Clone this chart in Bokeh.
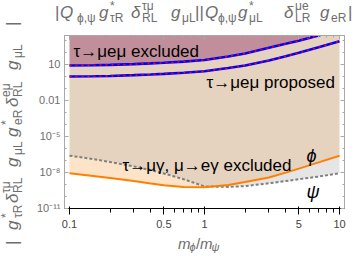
import numpy as np
from bokeh.plotting import figure
from bokeh.layouts import row, column
from bokeh.models import (FixedTicker, CustomJSTickFormatter, LogAxis, Label, Range1d, Div)
from bokeh.embed import file_html
from bokeh.resources import INLINE

# ---------------- data ----------------
mass_ratio = [0.1, 0.15, 0.2, 0.3, 0.4, 0.5, 0.7, 1, 1.5, 2, 3, 4, 5, 7, 10]
# log10 of the couplings
log10_mueme_excluded = [0.88, 0.90, 0.93, 0.99, 1.05, 1.10, 1.20, 1.33, 1.62, 1.88, 2.35, 2.68, 2.94, 3.38, 3.92]
log10_mueme_proposed = [-0.04, -0.02, 0.0, 0.07, 0.13, 0.18, 0.27, 0.40, 0.66, 0.88, 1.30, 1.64, 1.93, 2.40, 2.90]
log10_phi = [-8.11, -8.33, -8.50, -8.75, -8.96, -9.11, -9.24, -9.26, -9.08, -8.84, -8.45, -8.05, -7.72, -7.20, -6.64]
log10_psi = [-6.64, -6.92, -7.17, -7.53, -7.85, -8.12, -8.60, -9.20, -9.24, -9.17, -8.94, -8.75, -8.60, -8.38, -8.11]

x_tick_values = [0.1, 0.5, 1, 5, 10]
x_tick_labels = ["0.1", "0.5", "1", "5", "10"]
x_minor_ticks = [0.2, 0.3, 0.4, 0.6, 0.7, 0.8, 0.9, 2, 3, 4, 6, 7, 8, 9]
y_tick_values = [1e-11, 1e-8, 1e-5, 1e-2, 10]
y_tick_labels = ["10\u207b\u00b9\u00b9", "10\u207b\u2078", "10\u207b\u2075", "0.01", "10"]
y_minor_ticks = [1e-10, 1e-9, 1e-7, 1e-6, 1e-4, 1e-3, 0.1, 1, 100, 1000]

# ---------------- geometry (page pixels) ----------------
LX0, LX1 = -1.037, 1.037
LY0, LY1 = -11.04, 3.375
FR_L, FR_R, FR_T, FR_B = 64, 344, 35, 208   # frame edges on the page
W, H = 354, 258
LEFT_W = 28          # width of the rotated-label strip
TOP_H = 28           # height of the top-label strip
BOT_H = 25           # height of the x-label strip
PW, PH = W - LEFT_W, H - TOP_H - BOT_H

def dx(rx):
    return float(10 ** (LX0 + (rx - FR_L) / (FR_R - FR_L) * (LX1 - LX0)))

def dy(ry):
    return float(10 ** (LY1 - (ry - FR_T) / (FR_B - FR_T) * (LY1 - LY0)))

FONT = "Liberation Sans"
GRAY_TXT = "#6e6e6e"
FRAME = "#a8a8a8"

p = figure(width=PW, height=PH, x_axis_type="log", y_axis_type="log",
           x_range=Range1d(10 ** LX0, 10 ** LX1), y_range=Range1d(10 ** LY0, 10 ** LY1),
           output_backend="svg", toolbar_location=None, margin=0,
           min_border_left=FR_L - LEFT_W, min_border_right=W - FR_R,
           min_border_top=FR_T - TOP_H, min_border_bottom=TOP_H + PH - FR_B)
p.xgrid.visible = False
p.ygrid.visible = False
p.outline_line_color = FRAME
p.background_fill_color = "white"
p.border_fill_color = "white"

x = np.array(mass_ratio)
upper = 10 ** np.array(log10_mueme_excluded)
lower = 10 ** np.array(log10_mueme_proposed)
phi = 10 ** np.array(log10_phi)
psi = 10 ** np.array(log10_psi)
top_env = np.maximum(phi, psi)

# regions
p.varea(x=x, y1=upper, y2=np.full_like(x, 1e6), fill_color="#c18f9b")
p.varea(x=x, y1=top_env, y2=upper, fill_color="#e6d3bf")
p.varea(x=x, y1=phi, y2=top_env, fill_color="#fde4c9")
p.varea(x=x, y1=psi, y2=top_env, fill_color="#e5e5e5")

# curves
p.line(x, psi, line_color="#7f7f7f", line_width=2, line_dash="3 2")
p.line(x, phi, line_color="#ff8000", line_width=2)
for yy in (upper, lower):
    p.line(x, yy, line_color="#0000ff", line_width=2.6)
    p.line(x, yy, line_color="#ff0000", line_width=1.4, line_dash="2 4")

# axes
fmt_code = """
let best = 0, bd = Infinity;
for (let i = 0; i < vals.length; i++) {
  const d = Math.abs(Math.log10(tick) - Math.log10(vals[i]));
  if (d < bd) { bd = d; best = i; }
}
return labs[best];
"""
p.xaxis[0].ticker = FixedTicker(ticks=x_tick_values, minor_ticks=x_minor_ticks)
p.yaxis[0].ticker = FixedTicker(ticks=y_tick_values, minor_ticks=y_minor_ticks)
p.xaxis[0].formatter = CustomJSTickFormatter(args=dict(vals=x_tick_values, labs=x_tick_labels), code=fmt_code)
p.yaxis[0].formatter = CustomJSTickFormatter(args=dict(vals=y_tick_values, labs=y_tick_labels), code=fmt_code)

top_ax = LogAxis(ticker=FixedTicker(ticks=x_tick_values, minor_ticks=x_minor_ticks),
                 formatter=CustomJSTickFormatter(code='return "";'))
right_ax = LogAxis(ticker=FixedTicker(ticks=y_tick_values, minor_ticks=y_minor_ticks),
                   formatter=CustomJSTickFormatter(code='return "";'))
p.add_layout(top_ax, "above")
p.add_layout(right_ax, "right")

for ax in (p.xaxis[0], p.yaxis[0], top_ax, right_ax):
    ax.axis_line_color = FRAME
    ax.major_tick_line_color = FRAME
    ax.minor_tick_line_color = FRAME
    ax.major_tick_in = 4
    ax.major_tick_out = 0
    ax.minor_tick_in = 2
    ax.minor_tick_out = 0
    ax.major_label_text_color = GRAY_TXT
    ax.major_label_text_font = FONT
    ax.major_label_text_font_size = "11px"
for ax in (top_ax, right_ax):
    ax.major_label_standoff = 0
    ax.major_label_text_font_size = "1px"
p.xaxis[0].major_label_standoff = 5
p.yaxis[0].major_label_standoff = 4


def put(text, rx, ry, size, italic=False, baseline="middle"):
    p.add_layout(Label(x=dx(rx), y=dy(ry), text=text, text_font=FONT,
                       text_font_size=f"{size}px",
                       text_font_style="italic" if italic else "normal",
                       text_color="black", text_align="left", text_baseline=baseline))

# in-plot labels
put("\u03c4\u2192\u03bce\u03bc excluded", 73, 51, 17)
put("\u03c4\u2192\u03bce\u03bc proposed", 206, 82, 17)
put("\u03c4\u2192\u03bc\u03b3, \u03bc\u2192e\u03b3 excluded", 122, 165, 17)
put("\u03d5", 306, 155, 18, italic=True)
put("\u03c8", 306, 191, 18, italic=True)

# ---------------- outer labels as HTML text ----------------
ASC = 0.8465  # baseline position inside a line box of line-height 1


def span(t, bx, by, size, italic, rotated=False):
    """bx, by: baseline start point in the strip's own pixels."""
    if rotated:
        left, top = bx - ASC * size, by
        extra = "transform:rotate(-90deg);transform-origin:0 0;"
    else:
        left, top = bx, by - ASC * size
        extra = ""
    st = (f"position:absolute;left:{left:.1f}px;top:{top:.1f}px;font-size:{size}px;"
          f"line-height:1;white-space:nowrap;font-family:'{FONT}';color:{GRAY_TXT};"
          f"font-style:{'italic' if italic else 'normal'};{extra}")
    return f'<span style="{st}">{t}</span>'


def strip(spans, w, h):
    return (f'<div style="position:relative;width:{w}px;height:{h}px;overflow:visible;">'
            + "".join(spans) + "</div>")

MS, SS = 17, 12

# top label: |Q_{phi,psi} g*_{tau R} delta^{tau mu}_{RL} g_{mu L}||Q_{phi,psi} g*_{mu L} delta^{mu e}_{LR} g_{e R}|
top_pieces = [
    ("|", 55, "m", False), ("Q", 60, "m", True), ("\u03d5,\u03c8", 77, "s", False),
    ("g", 99, "m", True), ("*", 110, "p", False), ("\u03c4R", 110, "s", False),
    ("\u03b4", 131, "m", True), ("\u03c4\u03bc", 142, "p", False), ("RL", 142, "s", False),
    ("g", 171, "m", True), ("\u03bcL", 182, "s", False),
    ("||", 195, "m", False), ("Q", 205, "m", True), ("\u03d5,\u03c8", 218, "s", False),
    ("g", 238, "m", True), ("*", 249, "p", False), ("\u03bcL", 249, "s", False),
    ("\u03b4", 284, "m", True), ("\u03bce", 295, "p", False), ("LR", 295, "s", False),
    ("g", 320, "m", True), ("eR", 331, "s", False), ("|", 348, "m", False),
]
TB = {"m": 18.5, "s": 22.6, "p": 9.9}
top_spans = [span(t, px - LEFT_W, TB[k], MS if k == "m" else SS, it) for t, px, k, it in top_pieces]
top_div = Div(text=strip(top_spans, PW, TOP_H), width=PW, height=TOP_H, margin=0)

# left label (rotated, reads bottom to top)
left_pieces = [
    ("|", 245, "m", False), ("g", 230, "m", True), ("*", 218, "p", False), ("\u03c4R", 218, "s", False),
    ("\u03b4", 203, "m", True), ("\u03c4\u03bc", 193, "p", False), ("RL", 193, "s", False),
    ("g", 167, "m", True), ("\u03bcL", 155, "s", False),
    ("g", 137, "m", True), ("*", 125, "p", False), ("eR", 125, "s", False),
    ("\u03b4", 107, "m", True), ("e\u03bc", 97, "p", False), ("RL", 97, "s", False),
    ("g", 70, "m", True), ("\u03bcL", 58, "s", False), ("|", 26, "m", False),
]
LB = {"m": 18.5, "s": 22.6, "p": 10.1}
left_spans = [span(t, LB[k], py, MS if k == "m" else SS, it, rotated=True) for t, py, k, it in left_pieces]
left_div = Div(text=strip(left_spans, LEFT_W, H), width=LEFT_W, height=H, margin=0)

# x label m_phi / m_psi
y0 = TOP_H + PH
xl_pieces = [("m", 178, "m", True), ("\u03d5", 189.5, "s", True), ("/", 196, "m", False),
             ("m", 200, "m", True), ("\u03c8", 211.5, "s", True)]
XBL = {"m": 248.3, "s": 251.5}
xl_spans = [span(t, px - LEFT_W, XBL[k] - y0, 15 if k == "m" else 11, it) for t, px, k, it in xl_pieces]
bot_div = Div(text=strip(xl_spans, PW, BOT_H), width=PW, height=BOT_H, margin=0)

layout = row(left_div, column(top_div, p, bot_div, spacing=0, margin=0), spacing=0, margin=0)

open("out.html", "w").write(file_html(layout, INLINE))
